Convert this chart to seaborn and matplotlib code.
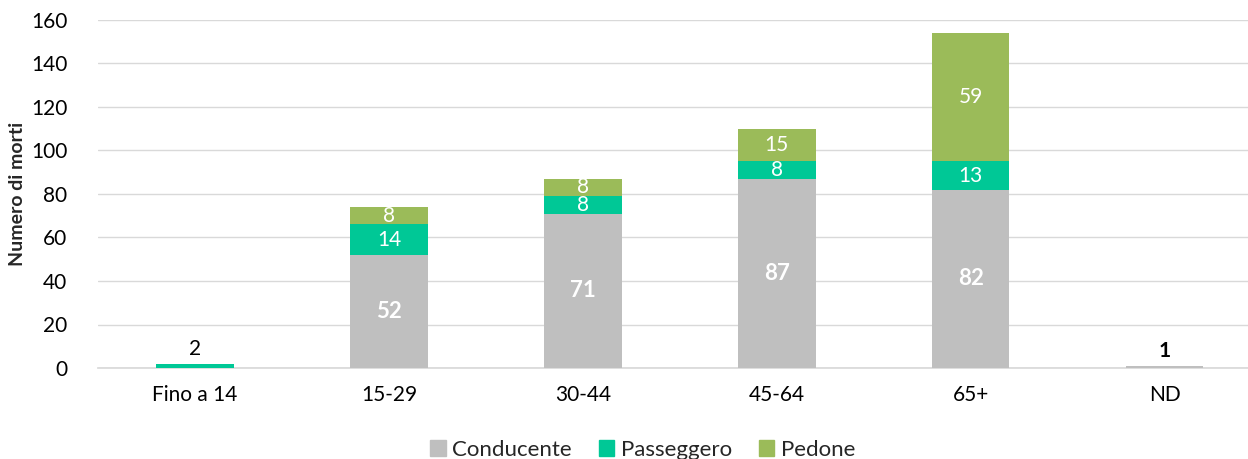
import matplotlib
matplotlib.use("Agg")
import matplotlib.pyplot as plt
import seaborn as sns
import numpy as np
import pandas as pd
from matplotlib.patches import Patch

# dati
categorie = ["Fino a 14", "15-29", "30-44", "45-64", "65+", "ND"]
conducente = [0, 52, 71, 87, 82, 1]
passeggero = [2, 14, 8, 8, 13, 0]
pedone = [0, 8, 8, 15, 59, 0]

C_COND = "#BFBFBF"
C_PASS = "#00C896"
C_PED = "#9BBB59"

sns.set_theme(style="white")
plt.rcParams['font.family'] = ['Lato', 'DejaVu Sans']

df = pd.DataFrame({"cat": categorie, "cond": conducente,
                   "pass": passeggero, "ped": pedone})
df["s1"] = df["cond"]
df["s2"] = df["cond"] + df["pass"]
df["s3"] = df["s2"] + df["ped"]

fig = plt.figure(figsize=(12.48, 4.59), dpi=100)
ax = fig.add_axes([98 / 1248, 1 - 368 / 459, 1150 / 1248, 348 / 459])

# barre sovrapposte (totale cumulato -> base)
for col, c in [("s3", C_PED), ("s2", C_PASS), ("s1", C_COND)]:
    sns.barplot(data=df, x="cat", y=col, color=c, width=0.4, saturation=1,
                linewidth=0, ax=ax, zorder=3)

# etichette
for i, row in df.iterrows():
    if row["cond"] > 0:
        if row["cond"] < 5:
            ax.text(i, row["cond"] + 2, str(row["cond"]), ha="center", va="bottom",
                    fontsize=15, fontweight="bold", color="black")
        else:
            ax.text(i, row["cond"] / 2, str(row["cond"]), ha="center", va="center",
                    fontsize=16, fontweight="bold", color="white")
    if row["pass"] > 0:
        if row["pass"] < 5:
            ax.text(i, row["s2"] + 2, str(row["pass"]), ha="center", va="bottom",
                    fontsize=15, color="black")
        else:
            ax.text(i, row["s1"] + row["pass"] / 2, str(row["pass"]), ha="center",
                    va="center", fontsize=15, color="white")
    if row["ped"] > 0:
        ax.text(i, row["s2"] + row["ped"] / 2, str(row["ped"]), ha="center",
                va="center", fontsize=15, color="white")

ax.set_ylim(0, 160)
ax.set_xlim(-0.5, 5.43)
ax.set_yticks(np.arange(0, 161, 20))
ax.yaxis.grid(True, color="#D9D9D9", linewidth=1, zorder=0)
ax.set_axisbelow(True)
for s in ["top", "right", "left"]:
    ax.spines[s].set_visible(False)
ax.spines["bottom"].set_color("#D9D9D9")
ax.tick_params(axis="both", labelsize=15, colors="black", length=0)
ax.tick_params(axis="x", pad=12)
ax.tick_params(axis="y", pad=22)
ax.set_xlabel("")
ax.set_ylabel("Numero di morti", fontsize=14, fontweight="bold", labelpad=4)

handles = [Patch(color=C_COND, label="Conducente"),
           Patch(color=C_PASS, label="Passeggero"),
           Patch(color=C_PED, label="Pedone")]
fig.legend(handles=handles, loc="lower center", bbox_to_anchor=(0.515, -0.045), ncol=3,
           frameon=False, fontsize=16, handlelength=0.7, handleheight=0.7,
           handletextpad=0.3, columnspacing=1.2)

fig.savefig("out.png", dpi=100)
